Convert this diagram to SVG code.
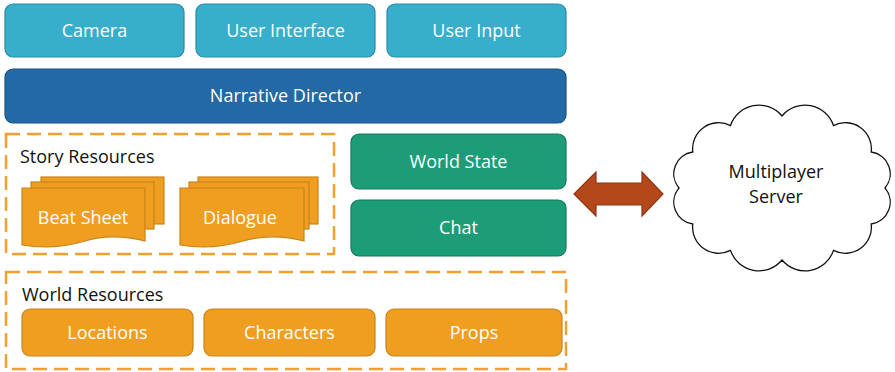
<svg xmlns="http://www.w3.org/2000/svg" width="895" height="372" viewBox="0 0 895 372">
  <style>
    text { font-family: "Open Sans", "Liberation Sans", sans-serif; font-size: 18px; }
    .lbl { fill: #ffffff; text-anchor: middle; }
    .dark { fill: #111111; }
    .cyan { fill: #38aecd; stroke: #2a8aa4; stroke-width: 1.2; }
    .blue { fill: #2369a5; stroke: #1b5283; stroke-width: 1.2; }
    .green { fill: #1c9d78; stroke: #16785c; stroke-width: 1.2; }
    .orange { fill: #f09e1f; stroke: #c9841b; stroke-width: 1.2; }
    .group { fill: none; stroke: #f0a02c; stroke-width: 2.5; stroke-dasharray: 14 7; }
    .cloud { fill: #ffffff; stroke: #111111; stroke-width: 1.3; }
    .link { fill: #b5481a; stroke: #8c3612; stroke-width: 1.2; }
  </style>

  <!-- top layer -->
  <g id="camera">
    <rect class="cyan" x="5" y="4" width="179" height="53" rx="8"/>
    <text class="lbl" x="94.5" y="37">Camera</text>
  </g>
  <g id="user-interface">
    <rect class="cyan" x="196" y="4" width="179" height="53" rx="8"/>
    <text class="lbl" x="285.5" y="37">User Interface</text>
  </g>
  <g id="user-input">
    <rect class="cyan" x="387" y="4" width="179" height="53" rx="8"/>
    <text class="lbl" x="476.5" y="37">User Input</text>
  </g>

  <g id="narrative-director">
    <rect class="blue" x="5" y="69" width="561" height="54" rx="8"/>
    <text class="lbl" x="285.5" y="102">Narrative Director</text>
  </g>

  <!-- story resources -->
  <g id="story-resources">
    <rect class="group" x="6" y="134" width="328" height="120"/>
    <text class="dark" x="20" y="163">Story Resources</text>
  </g>
  <g id="beat-sheet">
    <rect class="orange" x="41" y="177" width="123" height="47"/>
    <rect class="orange" x="31" y="182" width="123" height="47"/>
    <path class="orange" d="M22,188 H145 V241 C125,236 105,235 85,241 C65,247 45,249 22,245 Z"/>
    <text class="lbl" x="83" y="224">Beat Sheet</text>
  </g>
  <g id="dialogue">
    <rect class="orange" x="198" y="177" width="120" height="47"/>
    <rect class="orange" x="189" y="182" width="120" height="47"/>
    <path class="orange" d="M180,188 H304 V241 C284,236 264,235 243,241 C223,247 203,249 180,245 Z"/>
    <text class="lbl" x="240" y="224">Dialogue</text>
  </g>

  <g id="world-state">
    <rect class="green" x="351" y="134" width="215" height="55" rx="8"/>
    <text class="lbl" x="458.5" y="168">World State</text>
  </g>
  <g id="chat">
    <rect class="green" x="351" y="200" width="215" height="56" rx="8"/>
    <text class="lbl" x="458.5" y="234">Chat</text>
  </g>

  <!-- world resources -->
  <g id="world-resources">
    <rect class="group" x="6" y="272" width="560" height="97"/>
    <text class="dark" x="22" y="301">World Resources</text>
  </g>
  <g id="locations">
    <rect class="orange" x="22" y="309" width="171" height="47" rx="8"/>
    <text class="lbl" x="107.5" y="339">Locations</text>
  </g>
  <g id="characters">
    <rect class="orange" x="204" y="309" width="171" height="47" rx="8"/>
    <text class="lbl" x="289.5" y="339">Characters</text>
  </g>
  <g id="props">
    <rect class="orange" x="386" y="309" width="176" height="47" rx="8"/>
    <text class="lbl" x="474" y="339">Props</text>
  </g>

  <!-- multiplayer server: twelve outward bumps around an ellipse -->
  <g id="multiplayer-server">
    <path class="cloud" d="M885,188 A22,22 0 0 1 871.2,224 A26,26 0 0 1 833.5,250.4 A30,30 0 0 1 782,260 A30,30 0 0 1 730.5,250.4 A26,26 0 0 1 692.8,224 A22,22 0 0 1 679,188 A22,22 0 0 1 692.8,152 A26,26 0 0 1 730.5,125.6 A30,30 0 0 1 782,116 A30,30 0 0 1 833.5,125.6 A26,26 0 0 1 871.2,152 A22,22 0 0 1 885,188 Z"/>
    <text class="dark" x="776" y="178" text-anchor="middle">Multiplayer</text>
    <text class="dark" x="776" y="203" text-anchor="middle">Server</text>
  </g>

  <!-- connectors -->
  <g id="connectors">
    <path class="link" d="M574,194 L596,172 V183 H642 V172 L663,194 L642,216 V205 H596 V216 Z"/>
  </g>
</svg>
